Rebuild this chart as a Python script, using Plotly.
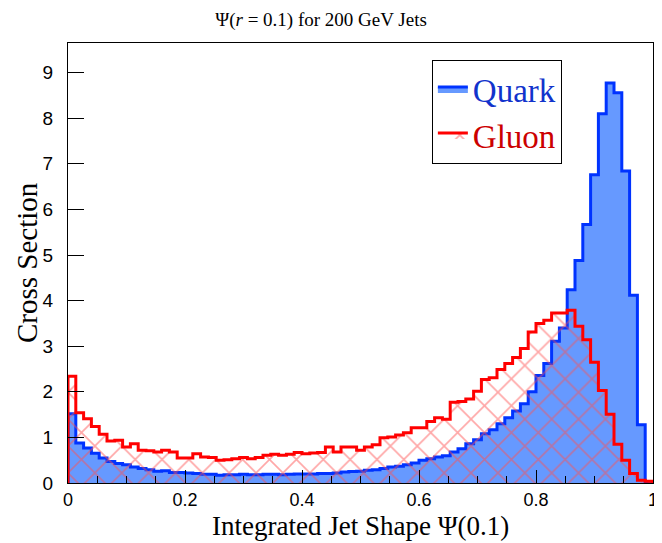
import numpy as np
import plotly.graph_objects as go

# ---- data (75 bins on [0, 1]) ----
x_min, x_max, n_bins = 0.0, 1.0, 75

quark = [1.52, 0.88, 0.77, 0.65, 0.55, 0.47, 0.43, 0.40, 0.35, 0.32,
         0.29, 0.26, 0.27, 0.23, 0.23, 0.22, 0.21, 0.19, 0.19, 0.17,
         0.18, 0.18, 0.19, 0.18, 0.18, 0.19, 0.19, 0.18, 0.19, 0.20,
         0.20, 0.20, 0.21, 0.21, 0.22, 0.24, 0.25, 0.26, 0.28, 0.29,
         0.32, 0.35, 0.37, 0.40, 0.44, 0.50, 0.53, 0.57, 0.60, 0.68,
         0.75, 0.86, 0.95, 1.08, 1.17, 1.30, 1.43, 1.58, 1.74, 2.00,
         2.36, 2.62, 3.11, 3.40, 4.24, 4.88, 5.67, 6.76, 8.10, 8.77,
         8.56, 6.84, 4.12, 1.28, 0.02]

gluon = [2.34, 1.54, 1.41, 1.24, 1.07, 0.92, 0.94, 0.79, 0.86, 0.72,
         0.71, 0.68, 0.72, 0.68, 0.55, 0.55, 0.64, 0.57, 0.56, 0.50,
         0.51, 0.53, 0.56, 0.53, 0.56, 0.61, 0.63, 0.61, 0.63, 0.67,
         0.64, 0.66, 0.67, 0.79, 0.68, 0.79, 0.79, 0.72, 0.79, 0.84,
         0.99, 1.01, 1.05, 1.10, 1.21, 1.21, 1.35, 1.43, 1.40, 1.77,
         1.79, 1.84, 2.01, 2.27, 2.31, 2.49, 2.62, 2.75, 2.95, 3.31,
         3.50, 3.57, 3.73, 3.73, 3.79, 3.44, 3.14, 2.65, 2.03, 1.51,
         0.85, 0.50, 0.21, 0.06, 0.04]

x_ticks = [0, 0.2, 0.4, 0.6, 0.8, 1]
x_tick_text = ["0", "0.2", "0.4", "0.6", "0.8", "1"]
y_ticks = list(range(0, 10))

edges = np.linspace(x_min, x_max, n_bins + 1)


def step(values):
    xs = [edges[0]] + list(edges[:-1]) + [edges[-1], edges[-1]]
    ys = [0] + list(values) + [values[-1], 0]
    return xs, ys


SERIF = "Liberation Serif, DejaVu Serif, serif"
SANS = "Liberation Sans, Arial, sans-serif"

# page body has an 8px margin: the figure is sized so that its plot area
# lands where the reference's frame is
W, H = 654, 535

fig = go.Figure()

qx, qy = step(quark)
fig.add_trace(go.Scatter(
    x=qx, y=qy, mode="lines", line=dict(shape="hv", color="#0033ff", width=3),
    fill="tozeroy", fillcolor="#6699ff",
    name='<span style="color:#1133cc">Quark</span>'))

gx, gy = step(gluon)
fig.add_trace(go.Scatter(
    x=gx, y=gy, mode="lines", line=dict(shape="hv", color="#ff0000", width=3),
    fill="tozeroy", fillcolor="rgba(255,255,255,0)",
    fillpattern=dict(shape="x", fgcolor="#ff5050", bgcolor="rgba(255,255,255,0)",
                     size=19, solidity=0.17),
    name='<span style="color:#cc0000">Gluon</span>'))

fig.update_layout(
    width=W, height=H,
    margin=dict(l=60, r=9, t=35, b=60),
    paper_bgcolor="white", plot_bgcolor="white",
    showlegend=True,
    legend=dict(x=0.622, y=0.961, xanchor="left", yanchor="top",
                bgcolor="white", bordercolor="black", borderwidth=1,
                font=dict(family=SERIF, size=33), itemwidth=30,
                tracegroupgap=0),
    title=dict(text="Ψ(<i>r</i> = 0.1) for 200 GeV Jets",
               font=dict(family=SERIF, size=19, color="black"),
               x=(321 - 8) / W, xref="container", xanchor="center",
               y=1 - (19 - 8) / H, yref="container", yanchor="middle"),
    annotations=[
        dict(text="Integrated Jet Shape Ψ(0.1)", xref="paper", yref="paper",
             x=0.5, y=-0.098, yanchor="middle", xanchor="center", showarrow=False,
             font=dict(family=SERIF, size=27, color="black")),
        dict(text="Cross Section", xref="paper", yref="paper",
             x=-0.07, y=0.5, xanchor="center", yanchor="middle",
             textangle=-90, showarrow=False,
             font=dict(family=SERIF, size=29, color="black")),
    ],
)

fig.update_xaxes(range=[x_min, x_max], tickvals=x_ticks, ticktext=x_tick_text,
                 ticks="inside", ticklen=13, tickwidth=1, tickcolor="black",
                 minor=dict(ticks="inside", ticklen=7, dtick=0.05, tickcolor="black"),
                 showline=True, linecolor="black", linewidth=1, mirror=True,
                 showgrid=False, zeroline=False, automargin=False,
                 tickfont=dict(family=SANS, size=18, color="black"),
                 ticklabelstandoff=0)
fig.update_yaxes(range=[0, 9.65], tickvals=y_ticks,
                 ticks="inside", ticklen=16, tickwidth=1, tickcolor="black",
                 showline=True, linecolor="black", linewidth=1, mirror=True,
                 showgrid=False, zeroline=False, automargin=False,
                 tickfont=dict(family=SANS, size=19, color="black"),
                 ticklabelstandoff=10)

fig.write_html("out.html")
